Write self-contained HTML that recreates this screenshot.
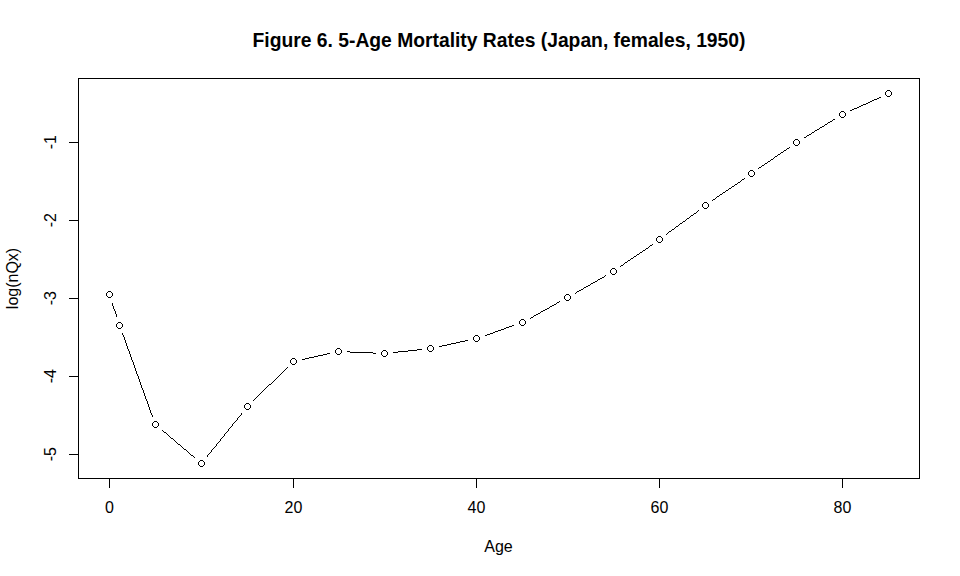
<!DOCTYPE html>
<html><head><meta charset="utf-8"><style>
html,body{margin:0;padding:0;background:#fff;width:960px;height:576px;overflow:hidden}
svg{display:block}
text{font-family:"Liberation Sans",sans-serif;font-size:16px;fill:#000}
</style></head><body>
<svg width="960" height="576" viewBox="0 0 960 576">
<rect width="960" height="576" fill="#fff"/>
<text x="499" y="47" text-anchor="middle" style="font-size:19.3px;font-weight:bold">Figure 6. 5-Age Mortality Rates (Japan, females, 1950)</text>
<g fill="#000" shape-rendering="crispEdges">
<rect x="78" y="78" width="842" height="1"/><rect x="78" y="478" width="842" height="1"/>
<rect x="78" y="78" width="1" height="401"/><rect x="919" y="78" width="1" height="401"/>
<rect x="109" y="478" width="1" height="10"/><rect x="293" y="478" width="1" height="10"/><rect x="476" y="478" width="1" height="10"/><rect x="659" y="478" width="1" height="10"/><rect x="842" y="478" width="1" height="10"/><rect x="69" y="142" width="10" height="1"/><rect x="69" y="220" width="10" height="1"/><rect x="69" y="298" width="10" height="1"/><rect x="69" y="376" width="10" height="1"/><rect x="69" y="454" width="10" height="1"/>
<path d="M108 291h3v1h-3zM107 292h1v1h-1zM111 292h1v1h-1zM106 293h1v3h-1zM112 293h1v3h-1zM107 296h1v1h-1zM111 296h1v1h-1zM108 297h3v1h-3zM118 322h3v1h-3zM117 323h1v1h-1zM121 323h1v1h-1zM116 324h1v3h-1zM122 324h1v3h-1zM117 327h1v1h-1zM121 327h1v1h-1zM118 328h3v1h-3zM154 421h3v1h-3zM153 422h1v1h-1zM157 422h1v1h-1zM152 423h1v3h-1zM158 423h1v3h-1zM153 426h1v1h-1zM157 426h1v1h-1zM154 427h3v1h-3zM200 460h3v1h-3zM199 461h1v1h-1zM203 461h1v1h-1zM198 462h1v3h-1zM204 462h1v3h-1zM199 465h1v1h-1zM203 465h1v1h-1zM200 466h3v1h-3zM246 403h3v1h-3zM245 404h1v1h-1zM249 404h1v1h-1zM244 405h1v3h-1zM250 405h1v3h-1zM245 408h1v1h-1zM249 408h1v1h-1zM246 409h3v1h-3zM292 358h3v1h-3zM291 359h1v1h-1zM295 359h1v1h-1zM290 360h1v3h-1zM296 360h1v3h-1zM291 363h1v1h-1zM295 363h1v1h-1zM292 364h3v1h-3zM337 348h3v1h-3zM336 349h1v1h-1zM340 349h1v1h-1zM335 350h1v3h-1zM341 350h1v3h-1zM336 353h1v1h-1zM340 353h1v1h-1zM337 354h3v1h-3zM383 350h3v1h-3zM382 351h1v1h-1zM386 351h1v1h-1zM381 352h1v3h-1zM387 352h1v3h-1zM382 355h1v1h-1zM386 355h1v1h-1zM383 356h3v1h-3zM429 345h3v1h-3zM428 346h1v1h-1zM432 346h1v1h-1zM427 347h1v3h-1zM433 347h1v3h-1zM428 350h1v1h-1zM432 350h1v1h-1zM429 351h3v1h-3zM475 335h3v1h-3zM474 336h1v1h-1zM478 336h1v1h-1zM473 337h1v3h-1zM479 337h1v3h-1zM474 340h1v1h-1zM478 340h1v1h-1zM475 341h3v1h-3zM521 319h3v1h-3zM520 320h1v1h-1zM524 320h1v1h-1zM519 321h1v3h-1zM525 321h1v3h-1zM520 324h1v1h-1zM524 324h1v1h-1zM521 325h3v1h-3zM566 294h3v1h-3zM565 295h1v1h-1zM569 295h1v1h-1zM564 296h1v3h-1zM570 296h1v3h-1zM565 299h1v1h-1zM569 299h1v1h-1zM566 300h3v1h-3zM612 268h3v1h-3zM611 269h1v1h-1zM615 269h1v1h-1zM610 270h1v3h-1zM616 270h1v3h-1zM611 273h1v1h-1zM615 273h1v1h-1zM612 274h3v1h-3zM658 236h3v1h-3zM657 237h1v1h-1zM661 237h1v1h-1zM656 238h1v3h-1zM662 238h1v3h-1zM657 241h1v1h-1zM661 241h1v1h-1zM658 242h3v1h-3zM704 202h3v1h-3zM703 203h1v1h-1zM707 203h1v1h-1zM702 204h1v3h-1zM708 204h1v3h-1zM703 207h1v1h-1zM707 207h1v1h-1zM704 208h3v1h-3zM750 170h3v1h-3zM749 171h1v1h-1zM753 171h1v1h-1zM748 172h1v3h-1zM754 172h1v3h-1zM749 175h1v1h-1zM753 175h1v1h-1zM750 176h3v1h-3zM795 139h3v1h-3zM794 140h1v1h-1zM798 140h1v1h-1zM793 141h1v3h-1zM799 141h1v3h-1zM794 144h1v1h-1zM798 144h1v1h-1zM795 145h3v1h-3zM841 111h3v1h-3zM840 112h1v1h-1zM844 112h1v1h-1zM839 113h1v3h-1zM845 113h1v3h-1zM840 116h1v1h-1zM844 116h1v1h-1zM841 117h3v1h-3zM887 90h3v1h-3zM886 91h1v1h-1zM890 91h1v1h-1zM885 92h1v3h-1zM891 92h1v3h-1zM886 95h1v1h-1zM890 95h1v1h-1zM887 96h3v1h-3z"/>
</g>
<path fill="#000" shape-rendering="crispEdges" d="M112 303h1v1h-1zM112 304h1v1h-1zM112 305h1v1h-1zM113 306h1v1h-1zM113 307h1v1h-1zM113 308h1v1h-1zM114 309h1v1h-1zM114 310h1v1h-1zM115 311h1v1h-1zM115 312h1v1h-1zM115 313h1v1h-1zM116 314h1v1h-1zM116 315h1v1h-1zM116 316h1v1h-1zM122 333h1v1h-1zM122 334h1v1h-1zM123 335h1v1h-1zM123 336h1v1h-1zM124 337h1v1h-1zM124 338h1v1h-1zM124 339h1v1h-1zM125 340h1v1h-1zM125 341h1v1h-1zM125 342h1v1h-1zM126 343h1v1h-1zM126 344h1v1h-1zM126 345h1v1h-1zM127 346h1v1h-1zM127 347h1v1h-1zM127 348h1v1h-1zM128 349h1v1h-1zM128 350h1v1h-1zM129 351h1v1h-1zM129 352h1v1h-1zM129 353h1v1h-1zM130 354h1v1h-1zM130 355h1v1h-1zM130 356h1v1h-1zM131 357h1v1h-1zM131 358h1v1h-1zM131 359h1v1h-1zM132 360h1v1h-1zM132 361h1v1h-1zM133 362h1v1h-1zM133 363h1v1h-1zM133 364h1v1h-1zM134 365h1v1h-1zM134 366h1v1h-1zM134 367h1v1h-1zM135 368h1v1h-1zM135 369h1v1h-1zM135 370h1v1h-1zM136 371h1v1h-1zM136 372h1v1h-1zM136 373h1v1h-1zM137 374h1v1h-1zM137 375h1v1h-1zM138 376h1v1h-1zM138 377h1v1h-1zM138 378h1v1h-1zM139 379h1v1h-1zM139 380h1v1h-1zM139 381h1v1h-1zM140 382h1v1h-1zM140 383h1v1h-1zM140 384h1v1h-1zM141 385h1v1h-1zM141 386h1v1h-1zM141 387h1v1h-1zM142 388h1v1h-1zM142 389h1v1h-1zM143 390h1v1h-1zM143 391h1v1h-1zM143 392h1v1h-1zM144 393h1v1h-1zM144 394h1v1h-1zM144 395h1v1h-1zM145 396h1v1h-1zM145 397h1v1h-1zM145 398h1v1h-1zM146 399h1v1h-1zM146 400h1v1h-1zM147 401h1v1h-1zM147 402h1v1h-1zM147 403h1v1h-1zM148 404h1v1h-1zM148 405h1v1h-1zM148 406h1v1h-1zM149 407h1v1h-1zM149 408h1v1h-1zM149 409h1v1h-1zM150 410h1v1h-1zM150 411h1v1h-1zM150 412h1v1h-1zM151 413h1v1h-1zM151 414h1v1h-1zM152 415h1v1h-1zM152 416h1v1h-1zM162 430h1v1h-1zM163 431h1v1h-1zM164 432h1v1h-1zM165 432h1v1h-1zM166 433h1v1h-1zM167 434h1v1h-1zM168 435h1v1h-1zM169 436h1v1h-1zM170 437h1v1h-1zM171 438h1v1h-1zM172 438h1v1h-1zM173 439h1v1h-1zM174 440h1v1h-1zM175 441h1v1h-1zM176 442h1v1h-1zM177 443h1v1h-1zM178 444h1v1h-1zM179 444h1v1h-1zM180 445h1v1h-1zM181 446h1v1h-1zM182 447h1v1h-1zM183 448h1v1h-1zM184 449h1v1h-1zM185 449h1v1h-1zM186 450h1v1h-1zM187 451h1v1h-1zM188 452h1v1h-1zM189 453h1v1h-1zM190 454h1v1h-1zM191 455h1v1h-1zM192 455h1v1h-1zM193 456h1v1h-1zM194 457h1v1h-1zM207 456h1v1h-1zM207 455h1v1h-1zM208 454h1v1h-1zM209 453h1v1h-1zM210 452h1v1h-1zM211 451h1v1h-1zM211 450h1v1h-1zM212 449h1v1h-1zM213 448h1v1h-1zM214 447h1v1h-1zM215 446h1v1h-1zM216 445h1v1h-1zM216 444h1v1h-1zM217 443h1v1h-1zM218 442h1v1h-1zM219 441h1v1h-1zM220 440h1v1h-1zM220 439h1v1h-1zM221 438h1v1h-1zM222 437h1v1h-1zM223 436h1v1h-1zM224 435h1v1h-1zM224 434h1v1h-1zM225 433h1v1h-1zM226 432h1v1h-1zM227 431h1v1h-1zM228 430h1v1h-1zM228 429h1v1h-1zM229 428h1v1h-1zM230 427h1v1h-1zM231 426h1v1h-1zM232 425h1v1h-1zM232 424h1v1h-1zM233 423h1v1h-1zM234 422h1v1h-1zM235 421h1v1h-1zM236 420h1v1h-1zM237 419h1v1h-1zM237 418h1v1h-1zM238 417h1v1h-1zM239 416h1v1h-1zM240 415h1v1h-1zM241 414h1v1h-1zM241 413h1v1h-1zM253 400h1v1h-1zM254 399h1v1h-1zM255 398h1v1h-1zM256 397h1v1h-1zM257 396h1v1h-1zM258 395h1v1h-1zM259 394h1v1h-1zM260 393h1v1h-1zM261 392h1v1h-1zM262 391h1v1h-1zM263 390h1v1h-1zM264 389h1v1h-1zM265 388h1v1h-1zM266 387h1v1h-1zM267 386h1v1h-1zM268 385h1v1h-1zM269 384h1v1h-1zM270 384h1v1h-1zM271 383h1v1h-1zM272 382h1v1h-1zM273 381h1v1h-1zM274 380h1v1h-1zM275 379h1v1h-1zM276 378h1v1h-1zM277 377h1v1h-1zM278 376h1v1h-1zM279 375h1v1h-1zM280 374h1v1h-1zM281 373h1v1h-1zM282 372h1v1h-1zM283 371h1v1h-1zM284 370h1v1h-1zM285 369h1v1h-1zM286 368h1v1h-1zM287 367h1v1h-1zM302 359h1v1h-1zM303 359h1v1h-1zM304 359h1v1h-1zM305 358h1v1h-1zM306 358h1v1h-1zM307 358h1v1h-1zM308 358h1v1h-1zM309 357h1v1h-1zM310 357h1v1h-1zM311 357h1v1h-1zM312 357h1v1h-1zM313 357h1v1h-1zM314 356h1v1h-1zM315 356h1v1h-1zM316 356h1v1h-1zM317 356h1v1h-1zM318 355h1v1h-1zM319 355h1v1h-1zM320 355h1v1h-1zM321 355h1v1h-1zM322 355h1v1h-1zM323 354h1v1h-1zM324 354h1v1h-1zM325 354h1v1h-1zM326 354h1v1h-1zM327 353h1v1h-1zM328 353h1v1h-1zM329 353h1v1h-1zM347 351h1v1h-1zM348 351h1v1h-1zM349 351h1v1h-1zM350 352h1v1h-1zM351 352h1v1h-1zM352 352h1v1h-1zM353 352h1v1h-1zM354 352h1v1h-1zM355 352h1v1h-1zM356 352h1v1h-1zM357 352h1v1h-1zM358 352h1v1h-1zM359 352h1v1h-1zM360 352h1v1h-1zM361 352h1v1h-1zM362 352h1v1h-1zM363 352h1v1h-1zM364 352h1v1h-1zM365 352h1v1h-1zM366 352h1v1h-1zM367 352h1v1h-1zM368 352h1v1h-1zM369 352h1v1h-1zM370 352h1v1h-1zM371 352h1v1h-1zM372 352h1v1h-1zM373 353h1v1h-1zM374 353h1v1h-1zM375 353h1v1h-1zM393 352h1v1h-1zM394 352h1v1h-1zM395 352h1v1h-1zM396 352h1v1h-1zM397 352h1v1h-1zM398 351h1v1h-1zM399 351h1v1h-1zM400 351h1v1h-1zM401 351h1v1h-1zM402 351h1v1h-1zM403 351h1v1h-1zM404 351h1v1h-1zM405 351h1v1h-1zM406 351h1v1h-1zM407 351h1v1h-1zM408 350h1v1h-1zM409 350h1v1h-1zM410 350h1v1h-1zM411 350h1v1h-1zM412 350h1v1h-1zM413 350h1v1h-1zM414 350h1v1h-1zM415 350h1v1h-1zM416 350h1v1h-1zM417 349h1v1h-1zM418 349h1v1h-1zM419 349h1v1h-1zM420 349h1v1h-1zM421 349h1v1h-1zM439 346h1v1h-1zM440 346h1v1h-1zM441 346h1v1h-1zM442 345h1v1h-1zM443 345h1v1h-1zM444 345h1v1h-1zM445 345h1v1h-1zM446 345h1v1h-1zM447 344h1v1h-1zM448 344h1v1h-1zM449 344h1v1h-1zM450 344h1v1h-1zM451 343h1v1h-1zM452 343h1v1h-1zM453 343h1v1h-1zM454 343h1v1h-1zM455 343h1v1h-1zM456 342h1v1h-1zM457 342h1v1h-1zM458 342h1v1h-1zM459 342h1v1h-1zM460 341h1v1h-1zM461 341h1v1h-1zM462 341h1v1h-1zM463 341h1v1h-1zM464 341h1v1h-1zM465 340h1v1h-1zM466 340h1v1h-1zM467 340h1v1h-1zM485 335h1v1h-1zM486 335h1v1h-1zM487 334h1v1h-1zM488 334h1v1h-1zM489 334h1v1h-1zM490 333h1v1h-1zM491 333h1v1h-1zM492 333h1v1h-1zM493 332h1v1h-1zM494 332h1v1h-1zM495 331h1v1h-1zM496 331h1v1h-1zM497 331h1v1h-1zM498 330h1v1h-1zM499 330h1v1h-1zM500 330h1v1h-1zM501 329h1v1h-1zM502 329h1v1h-1zM503 329h1v1h-1zM504 328h1v1h-1zM505 328h1v1h-1zM506 327h1v1h-1zM507 327h1v1h-1zM508 327h1v1h-1zM509 326h1v1h-1zM510 326h1v1h-1zM511 326h1v1h-1zM512 325h1v1h-1zM513 325h1v1h-1zM530 318h1v1h-1zM531 317h1v1h-1zM532 317h1v1h-1zM533 316h1v1h-1zM534 315h1v1h-1zM535 315h1v1h-1zM536 314h1v1h-1zM537 314h1v1h-1zM538 313h1v1h-1zM539 313h1v1h-1zM540 312h1v1h-1zM541 311h1v1h-1zM542 311h1v1h-1zM543 310h1v1h-1zM544 310h1v1h-1zM545 309h1v1h-1zM546 309h1v1h-1zM547 308h1v1h-1zM548 308h1v1h-1zM549 307h1v1h-1zM550 306h1v1h-1zM551 306h1v1h-1zM552 305h1v1h-1zM553 305h1v1h-1zM554 304h1v1h-1zM555 304h1v1h-1zM556 303h1v1h-1zM557 302h1v1h-1zM558 302h1v1h-1zM559 301h1v1h-1zM575 293h1v1h-1zM576 292h1v1h-1zM577 291h1v1h-1zM578 291h1v1h-1zM579 290h1v1h-1zM580 290h1v1h-1zM581 289h1v1h-1zM582 289h1v1h-1zM583 288h1v1h-1zM584 287h1v1h-1zM585 287h1v1h-1zM586 286h1v1h-1zM587 286h1v1h-1zM588 285h1v1h-1zM589 285h1v1h-1zM590 284h1v1h-1zM591 283h1v1h-1zM592 283h1v1h-1zM593 282h1v1h-1zM594 282h1v1h-1zM595 281h1v1h-1zM596 281h1v1h-1zM597 280h1v1h-1zM598 279h1v1h-1zM599 279h1v1h-1zM600 278h1v1h-1zM601 278h1v1h-1zM602 277h1v1h-1zM603 277h1v1h-1zM604 276h1v1h-1zM605 275h1v1h-1zM620 266h1v1h-1zM621 265h1v1h-1zM622 265h1v1h-1zM623 264h1v1h-1zM624 263h1v1h-1zM625 262h1v1h-1zM626 262h1v1h-1zM627 261h1v1h-1zM628 260h1v1h-1zM629 260h1v1h-1zM630 259h1v1h-1zM631 258h1v1h-1zM632 258h1v1h-1zM633 257h1v1h-1zM634 256h1v1h-1zM635 256h1v1h-1zM636 255h1v1h-1zM637 254h1v1h-1zM638 254h1v1h-1zM639 253h1v1h-1zM640 252h1v1h-1zM641 252h1v1h-1zM642 251h1v1h-1zM643 250h1v1h-1zM644 250h1v1h-1zM645 249h1v1h-1zM646 248h1v1h-1zM647 248h1v1h-1zM648 247h1v1h-1zM649 246h1v1h-1zM650 245h1v1h-1zM651 245h1v1h-1zM652 244h1v1h-1zM666 234h1v1h-1zM667 233h1v1h-1zM668 232h1v1h-1zM669 231h1v1h-1zM670 231h1v1h-1zM671 230h1v1h-1zM672 229h1v1h-1zM673 229h1v1h-1zM674 228h1v1h-1zM675 227h1v1h-1zM676 226h1v1h-1zM677 226h1v1h-1zM678 225h1v1h-1zM679 224h1v1h-1zM680 223h1v1h-1zM681 223h1v1h-1zM682 222h1v1h-1zM683 221h1v1h-1zM684 221h1v1h-1zM685 220h1v1h-1zM686 219h1v1h-1zM687 218h1v1h-1zM688 218h1v1h-1zM689 217h1v1h-1zM690 216h1v1h-1zM691 215h1v1h-1zM692 215h1v1h-1zM693 214h1v1h-1zM694 213h1v1h-1zM695 213h1v1h-1zM696 212h1v1h-1zM697 211h1v1h-1zM698 210h1v1h-1zM712 200h1v1h-1zM713 199h1v1h-1zM714 199h1v1h-1zM715 198h1v1h-1zM716 197h1v1h-1zM717 196h1v1h-1zM718 196h1v1h-1zM719 195h1v1h-1zM720 194h1v1h-1zM721 194h1v1h-1zM722 193h1v1h-1zM723 192h1v1h-1zM724 192h1v1h-1zM725 191h1v1h-1zM726 190h1v1h-1zM727 190h1v1h-1zM728 189h1v1h-1zM729 188h1v1h-1zM730 188h1v1h-1zM731 187h1v1h-1zM732 186h1v1h-1zM733 186h1v1h-1zM734 185h1v1h-1zM735 184h1v1h-1zM736 184h1v1h-1zM737 183h1v1h-1zM738 182h1v1h-1zM739 182h1v1h-1zM740 181h1v1h-1zM741 180h1v1h-1zM742 179h1v1h-1zM743 179h1v1h-1zM744 178h1v1h-1zM758 168h1v1h-1zM759 167h1v1h-1zM760 167h1v1h-1zM761 166h1v1h-1zM762 165h1v1h-1zM763 165h1v1h-1zM764 164h1v1h-1zM765 163h1v1h-1zM766 163h1v1h-1zM767 162h1v1h-1zM768 161h1v1h-1zM769 161h1v1h-1zM770 160h1v1h-1zM771 159h1v1h-1zM772 159h1v1h-1zM773 158h1v1h-1zM774 157h1v1h-1zM775 156h1v1h-1zM776 156h1v1h-1zM777 155h1v1h-1zM778 154h1v1h-1zM779 154h1v1h-1zM780 153h1v1h-1zM781 152h1v1h-1zM782 152h1v1h-1zM783 151h1v1h-1zM784 150h1v1h-1zM785 150h1v1h-1zM786 149h1v1h-1zM787 148h1v1h-1zM788 148h1v1h-1zM789 147h1v1h-1zM804 137h1v1h-1zM805 137h1v1h-1zM806 136h1v1h-1zM807 135h1v1h-1zM808 135h1v1h-1zM809 134h1v1h-1zM810 134h1v1h-1zM811 133h1v1h-1zM812 132h1v1h-1zM813 132h1v1h-1zM814 131h1v1h-1zM815 130h1v1h-1zM816 130h1v1h-1zM817 129h1v1h-1zM818 129h1v1h-1zM819 128h1v1h-1zM820 127h1v1h-1zM821 127h1v1h-1zM822 126h1v1h-1zM823 126h1v1h-1zM824 125h1v1h-1zM825 124h1v1h-1zM826 124h1v1h-1zM827 123h1v1h-1zM828 122h1v1h-1zM829 122h1v1h-1zM830 121h1v1h-1zM831 121h1v1h-1zM832 120h1v1h-1zM833 119h1v1h-1zM834 119h1v1h-1zM850 110h1v1h-1zM851 110h1v1h-1zM852 109h1v1h-1zM853 109h1v1h-1zM854 108h1v1h-1zM855 108h1v1h-1zM856 108h1v1h-1zM857 107h1v1h-1zM858 107h1v1h-1zM859 106h1v1h-1zM860 106h1v1h-1zM861 105h1v1h-1zM862 105h1v1h-1zM863 104h1v1h-1zM864 104h1v1h-1zM865 104h1v1h-1zM866 103h1v1h-1zM867 103h1v1h-1zM868 102h1v1h-1zM869 102h1v1h-1zM870 101h1v1h-1zM871 101h1v1h-1zM872 100h1v1h-1zM873 100h1v1h-1zM874 99h1v1h-1zM875 99h1v1h-1zM876 99h1v1h-1zM877 98h1v1h-1zM878 98h1v1h-1zM879 97h1v1h-1zM880 97h1v1h-1z"/>
<text x="109.5" y="513" text-anchor="middle">0</text><text x="293.5" y="513" text-anchor="middle">20</text><text x="476.5" y="513" text-anchor="middle">40</text><text x="659.5" y="513" text-anchor="middle">60</text><text x="842.5" y="513" text-anchor="middle">80</text>
<text transform="translate(55.5,142.2) rotate(-90)" text-anchor="middle">-1</text><text transform="translate(55.5,220.2) rotate(-90)" text-anchor="middle">-2</text><text transform="translate(55.5,298.2) rotate(-90)" text-anchor="middle">-3</text><text transform="translate(55.5,376.2) rotate(-90)" text-anchor="middle">-4</text><text transform="translate(55.5,454.2) rotate(-90)" text-anchor="middle">-5</text>
<text x="498.5" y="552" text-anchor="middle">Age</text>
<text transform="translate(18,278.5) rotate(-90)" text-anchor="middle">log(nQx)</text>
</svg>
</body></html>
